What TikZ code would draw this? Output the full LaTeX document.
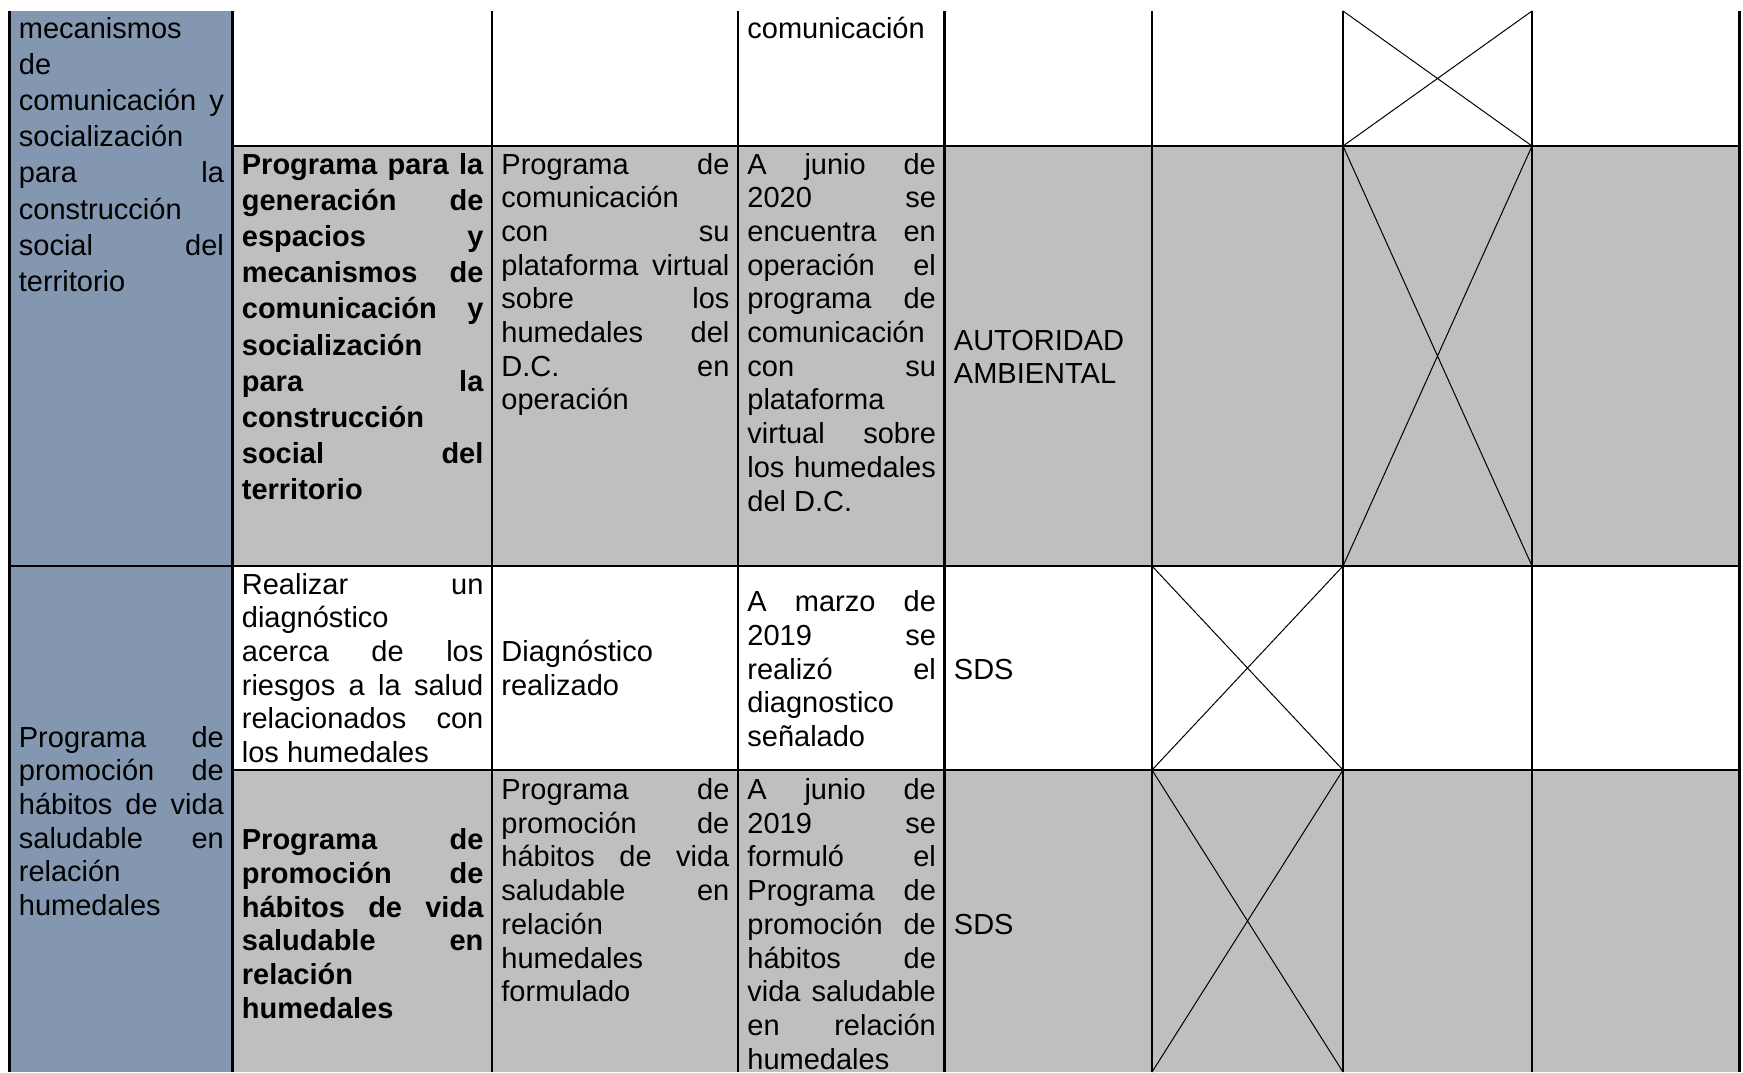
\documentclass[tikz,border=0pt]{standalone}
\usepackage{fontspec}
\setmainfont{Liberation Sans}
\usepackage{tikz}
\usetikzlibrary{positioning}
\definecolor{bluegray}{HTML}{8497B0}
\definecolor{rowgray}{HTML}{BFBFBF}
\tikzstyle{cell} = [anchor=base west, inner sep=0pt, align=justify, font=\fontsize{14.5}{16.85}\selectfont]
\tikzstyle{loose} = [font=\fontsize{14.5}{18.1}\selectfont]
\tikzstyle{rule} = [line width=1.1pt]
\tikzstyle{cross} = [line width=0.5pt]

\begin{document}
\begin{tikzpicture}[x=0.5pt, y=-0.5pt]
    \useasboundingbox (0,0) rectangle (1743,1072);
    % backgrounds
    \fill[bluegray] (9.5,11) rectangle (232.5,1072);
    \fill[rowgray] (232.5,146) rectangle (1739.5,566);
    \fill[rowgray] (232.5,770) rectangle (1739.5,1072);
    % crossed cells
    \draw[cross] (1343,11) -- (1532,146) (1532,11) -- (1343,146);
    \draw[cross] (1343,146) -- (1532,566) (1532,146) -- (1343,566);
    \draw[cross] (1152,566) -- (1343,770) (1343,566) -- (1152,770);
    \draw[cross] (1152,770) -- (1343,1072) (1343,770) -- (1152,1072);
    % grid
    \foreach \x in {9.5,232.5,492,738,944.5,1152,1343,1532,1739.5}
        \draw[rule] (\x,11) -- (\x,1072);
    \draw[rule] (232.5,146) -- (1739.5,146);
    \draw[rule] (9.5,566) -- (1739.5,566);
    \draw[rule] (232.5,770) -- (1739.5,770);

    % first block
    \node[cell, loose, text width=102.5pt] (lineaA) at (18.5,38) {mecanismos\newline de\newline comunicación y\linebreak socialización\newline para la\linebreak construcción\newline social del\linebreak territorio};
    \node[cell, text width=94.25pt] (estadoP) at (747,38) {comunicación};
    \node[cell, loose, text width=120.75pt] (accionA) at (241.5,174) {\bfseries Programa para la\linebreak generación de\linebreak espacios y\linebreak mecanismos de\linebreak comunicación y\linebreak socialización\newline para la\linebreak construcción\newline social del\linebreak territorio};
    \node[cell, text width=114pt] (productoA) at (501,174) {Programa de\linebreak comunicación\newline con su\linebreak plataforma virtual\linebreak sobre los\linebreak humedales del\linebreak D.C. en\linebreak operación};
    \node[cell, text width=94.25pt] (estadoA) at (747,174) {A junio de\linebreak 2020 se\linebreak encuentra en\linebreak operación el\linebreak programa de\linebreak comunicación\newline con su\linebreak plataforma\newline virtual sobre\linebreak los humedales\linebreak del D.C.};
    \node[cell, text width=94.75pt] (entidadA) at (953.5,350) {AUTORIDAD\newline AMBIENTAL};

    % second block
    \node[cell, text width=102.5pt] (lineaB) at (18.5,747) {Programa de\linebreak promoción de\linebreak hábitos de vida\linebreak saludable en\linebreak relación\newline humedales};
    \node[cell, text width=120.75pt] (accionB) at (241.5,594) {Realizar un\linebreak diagnóstico\newline acerca de los\linebreak riesgos a la salud\linebreak relacionados con\linebreak los humedales};
    \node[cell, text width=114pt] (productoB) at (501,661.6) {Diagnóstico\newline realizado};
    \node[cell, text width=94.25pt] (estadoB) at (747,611.6) {A marzo de\linebreak 2019 se\linebreak realizó el\linebreak diagnostico\newline señalado};
    \node[cell, text width=94.75pt] (entidadB) at (953.5,679.4) {SDS};
    \node[cell, text width=120.75pt] (accionC) at (241.5,849.6) {\bfseries Programa de\linebreak promoción de\linebreak hábitos de vida\linebreak saludable en\linebreak relación\newline humedales};
    \node[cell, text width=114pt] (productoC) at (501,799.5) {Programa de\linebreak promoción de\linebreak hábitos de vida\linebreak saludable en\linebreak relación\newline humedales\newline formulado};
    \node[cell, text width=94.25pt] (estadoC) at (747,799.5) {A junio de\linebreak 2019 se\linebreak formuló el\linebreak Programa de\linebreak promoción de\linebreak hábitos de\linebreak vida saludable\linebreak en relación\linebreak humedales};
    \node[cell, text width=94.75pt] (entidadC) at (953.5,934) {SDS};
\end{tikzpicture}
\end{document}
